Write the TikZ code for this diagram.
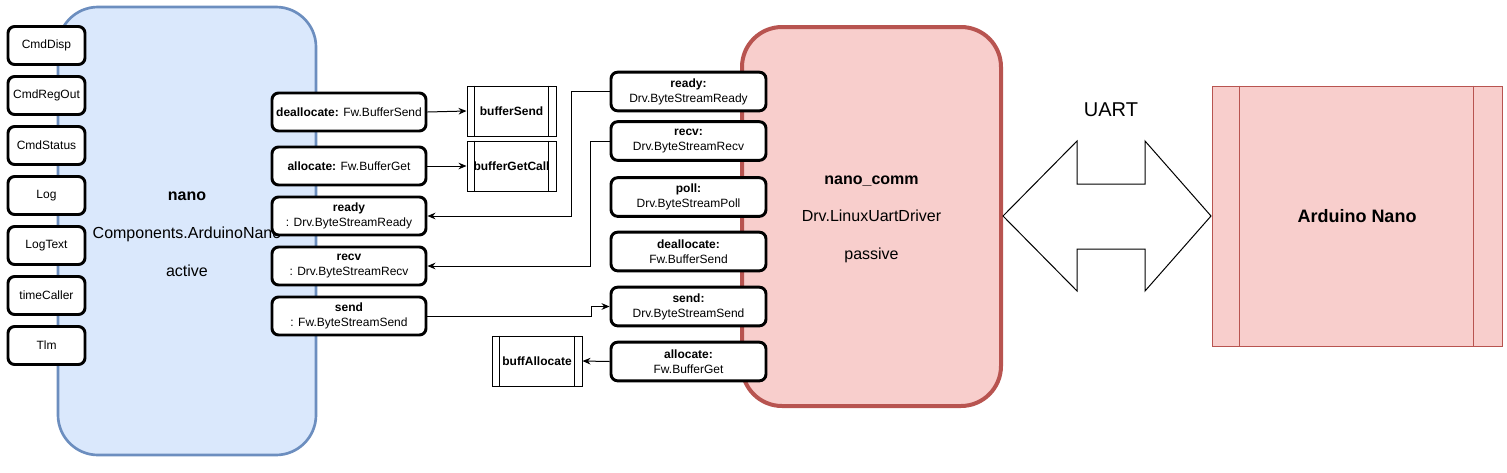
\documentclass[tikz,border=0pt]{standalone}
\usepackage{fontspec}
\setmainfont{Liberation Sans}
\usetikzlibrary{arrows.meta}
\definecolor{nanofill}{HTML}{DAE8FC}
\definecolor{nanoline}{HTML}{6C8EBF}
\definecolor{commfill}{HTML}{F8CECC}
\definecolor{commline}{HTML}{B85450}

\begin{document}
\begin{tikzpicture}[x=0.75pt,y=-0.75pt,>={Stealth[length=6pt,width=5pt]},
    port/.style={draw,line width=2.2pt,rounded corners=5pt,fill=white,inner sep=0pt,
        align=center,font=\fontsize{9}{11.25}\selectfont},
    lport/.style={port,minimum width=57.75pt,minimum height=28.5pt},
    nport/.style={port,minimum width=115.5pt,minimum height=28.5pt},
    cport/.style={port,minimum width=116.25pt,minimum height=29pt},
    bufbox/.style={draw,line width=0.75pt,fill=white,minimum width=66.75pt,minimum height=37.5pt,
        inner sep=0pt,font=\fontsize{9}{11}\selectfont\bfseries},
    comp/.style={rounded corners=30pt,inner sep=0pt},
    comptext/.style={align=center,inner sep=0pt,font=\fontsize{12}{28.25}\selectfont},
    wire/.style={->,line width=0.75pt}]
    \useasboundingbox (0,0) rectangle (1507,472);

    % components
    \node[comp,draw=nanoline,fill=nanofill,line width=2pt,minimum width=193.5pt,minimum height=336pt]
        (nano) at (187,231) {};
    \node[comptext] (nanotext) at ([yshift=-2.5pt]nano.center) {\textbf{nano}\\Components.ArduinoNano\\active};
    \node[comp,draw=commline,fill=commfill,line width=3pt,minimum width=194.25pt,minimum height=284.25pt]
        (comm) at (871.5,216.5) {};
    \node[comptext] (commtext) at ([yshift=-2pt]comm.center) {\textbf{nano\_comm}\\Drv.LinuxUartDriver\\passive};

    % ports of nano, left side
    \foreach \lbl [count=\i] in {CmdDisp,CmdRegOut,CmdStatus,Log,LogText,timeCaller,Tlm}
        \node[lport] (l\i) at (46.5,-4.5+50*\i) {\lbl};

    % ports of nano, right side
    \node[nport] (ndealloc) at (349,112) {\textbf{deallocate:} Fw.BufferSend};
    \node[nport] (nalloc) at (349,166) {\textbf{allocate:} Fw.BufferGet};
    \node[nport] (nready) at (349,216) {\textbf{ready}\\: Drv.ByteStreamReady};
    \node[nport] (nrecv) at (349,266) {\textbf{recv}\\: Drv.ByteStreamRecv};
    \node[nport] (nsend) at (349,316) {\textbf{send}\\: Fw.ByteStreamSend};

    % ports of nano_comm
    \node[cport] (cready) at (688.5,91.5) {\textbf{ready:}\\Drv.ByteStreamReady};
    \node[cport] (crecv) at (688.5,141) {\textbf{recv:}\\Drv.ByteStreamRecv};
    \node[cport] (cpoll) at (688.5,197) {\textbf{poll:}\\Drv.ByteStreamPoll};
    \node[cport] (cdealloc) at (688.5,251.5) {\textbf{deallocate:}\\Fw.BufferSend};
    \node[cport] (csend) at (688.5,306.5) {\textbf{send:}\\Drv.ByteStreamSend};
    \node[cport] (calloc) at (688.5,361.5) {\textbf{allocate:}\\Fw.BufferGet};

    % buffer handlers
    \node[bufbox] (bufsend) at (511.5,111) {bufferSend};
    \node[bufbox] (bufget) at (511.5,166) {bufferGetCall};
    \node[bufbox,minimum width=67.5pt] (bufalloc) at (537,361) {buffAllocate};
    \foreach \b in {bufsend,bufget,bufalloc} {
        \draw[line width=0.75pt] ([xshift=6.25pt]\b.north west) -- ([xshift=6.25pt]\b.south west);
        \draw[line width=0.75pt] ([xshift=-6.25pt]\b.north east) -- ([xshift=-6.25pt]\b.south east);
    }

    % connections
    \draw[wire] (ndealloc.east) -- (bufsend.west);
    \draw[wire] (nalloc.east) -- (bufget.west);
    \draw[wire] (cready.west) -- ++(-38,0) |- (nready.east);
    \draw[wire] (crecv.west) -- ++(-19,0) |- (nrecv.east);
    \draw[wire] (nsend.east) -- ++(164,0) |- (csend.west);
    \draw[wire] (calloc.west) -- (bufalloc.east);

    % UART link and board
    \draw[line width=0.75pt,fill=white] (1003,216) -- (1077,141) -- (1077,184) -- (1145,184)
        -- (1145,141) -- (1211,216) -- (1145,291) -- (1145,249) -- (1077,249) -- (1077,291) -- cycle;
    \node[font=\fontsize{15}{18}\selectfont] (uart) at (1111,110) {UART};
    \node[draw=commline,fill=commfill,line width=0.75pt,minimum width=217.5pt,minimum height=195pt,
        font=\fontsize{13.5}{16}\selectfont\bfseries] (ardu) at (1357,216) {Arduino Nano};
    \draw[commline,line width=0.75pt] ([xshift=21pt]ardu.north west) -- ([xshift=21pt]ardu.south west);
    \draw[commline,line width=0.75pt] ([xshift=-22pt]ardu.north east) -- ([xshift=-22pt]ardu.south east);
\end{tikzpicture}
\end{document}
